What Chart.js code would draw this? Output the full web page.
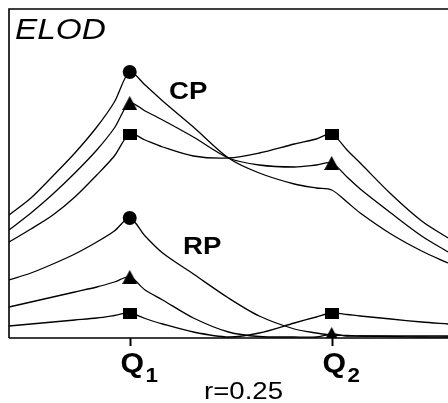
<!DOCTYPE html>
<html>
<head>
<meta charset="utf-8">
<script src="https://cdn.jsdelivr.net/npm/chart.js@4/dist/chart.umd.min.js"></script>
<style>
    html, body { margin: 0; padding: 0; background: #fff; }
    #chart { display: block; }
</style>
</head>
<body>
<canvas id="chart" width="448" height="403"></canvas>
<script>
// map position (cM), QTL positions at Q1 and Q2
const positions = [0, 5, 10, 15, 20, 24, 27.5, 31, 35, 42, 50, 57, 65, 70, 73.5, 77, 80, 87, 94, 100];
const qtlPositions = [27.5, 73.5];
const qtlLabels = ['1', '2'];

// ELOD profiles
const cpCircle   = [1.23, 1.40, 1.62, 1.85, 2.11, 2.36, 2.66, 2.53, 2.37, 2.11, 1.80, 1.65, 1.54, 1.50, 1.48, 1.36, 1.25, 1.04, 0.87, 0.75];
const cpTriangle = [1.08, 1.25, 1.44, 1.65, 1.88, 2.10, 2.35, 2.27, 2.18, 2.01, 1.80, 1.73, 1.71, 1.73, 1.75, 1.61, 1.49, 1.25, 1.02, 0.86];
const cpSquare   = [0.96, 1.09, 1.23, 1.41, 1.63, 1.82, 2.04, 1.98, 1.91, 1.82, 1.80, 1.85, 1.94, 1.99, 2.04, 1.88, 1.75, 1.44, 1.17, 1.00];
const rpCircle   = [0.58, 0.65, 0.74, 0.84, 0.96, 1.07, 1.20, 1.02, 0.85, 0.64, 0.40, 0.22, 0.09, 0.05, 0.03, 0.025, 0.02, 0.015, 0.01, 0.01];
const rpTriangle = [0.31, 0.36, 0.41, 0.46, 0.51, 0.56, 0.61, 0.48, 0.38, 0.20, 0.06, 0.015, 0.01, 0.01, 0.04, 0.02, 0.02, 0.02, 0.02, 0.02];
const rpSquare   = [0.12, 0.14, 0.16, 0.18, 0.20, 0.225, 0.25, 0.195, 0.14, 0.06, 0.01, 0.05, 0.15, 0.21, 0.25, 0.235, 0.22, 0.19, 0.16, 0.14];

const FONT = '"Liberation Sans", Arial, sans-serif';

function makeMarker(w, h, shape) {
    const c = document.createElement('canvas');
    c.width = w;
    c.height = h;
    const g = c.getContext('2d');
    g.fillStyle = '#000';
    if (shape === 'triangle') {
        g.beginPath();
        g.moveTo(w / 2, 0);
        g.lineTo(w, h);
        g.lineTo(0, h);
        g.closePath();
        g.fill();
    } else {
        g.fillRect(0, 0, w, h);
    }
    return c;
}

const squareMark = makeMarker(14, 11, 'square');
const triangleMark = makeMarker(15, 14, 'triangle');

// which QTL positions carry a marker
function series(values, style, markAt) {
    return {
        data: positions.map((x, i) => ({ x, y: values[i] })),
        borderColor: '#000',
        borderWidth: 1.3,
        backgroundColor: '#000',
        tension: 0.3,
        pointStyle: style,
        pointBorderWidth: 0,
        pointRadius: (ctx) => markAt.includes(positions[ctx.dataIndex]) ? 7 : 0,
        pointHoverRadius: 0
    };
}

function drawText(ctx, str, x, y, font, sx) {
    ctx.save();
    ctx.translate(x, y);
    ctx.scale(sx, 1);
    ctx.font = font;
    ctx.fillStyle = '#000';
    ctx.textBaseline = 'alphabetic';
    ctx.fillText(str, 0, 0);
    ctx.restore();
}

const framePlugin = {
    id: 'frame',
    afterDatasetsDraw(chart) {
        const { ctx, chartArea } = chart;
        const xScale = chart.scales.x;
        ctx.save();
        ctx.strokeStyle = '#000';
        ctx.lineWidth = 1.6;
        ctx.beginPath();
        ctx.moveTo(chartArea.left, chartArea.bottom);
        ctx.lineTo(chartArea.left, chartArea.top);
        ctx.lineTo(chartArea.right, chartArea.top);
        ctx.moveTo(chartArea.left, chartArea.bottom);
        ctx.lineTo(chartArea.right, chartArea.bottom);
        ctx.stroke();

        qtlPositions.forEach((q, i) => {
            const px = Math.round(xScale.getPixelForValue(q)) + 0.5;
            ctx.beginPath();
            ctx.lineWidth = 2;
            ctx.moveTo(px, chartArea.bottom);
            ctx.lineTo(px, chartArea.bottom + 8);
            ctx.stroke();
            drawText(ctx, 'Q', px - 10, 372, 'bold 27px ' + FONT, 1.12);
            drawText(ctx, qtlLabels[i], px + 15, 382, 'bold 20px ' + FONT, 1.12);
        });
        ctx.restore();

        drawText(ctx, 'ELOD', 15, 39, 'italic 29px ' + FONT, 1.15);
        drawText(ctx, 'CP', 169, 99, 'bold 24px ' + FONT, 1.15);
        drawText(ctx, 'RP', 183, 254, 'bold 24px ' + FONT, 1.15);
        drawText(ctx, 'r=0.25', 204, 399, '24px ' + FONT, 1.15);
    }
};

new Chart(document.getElementById('chart'), {
    type: 'line',
    data: {
        datasets: [
            series(cpCircle, 'circle', [qtlPositions[0]]),
            series(cpTriangle, triangleMark, qtlPositions),
            series(cpSquare, squareMark, qtlPositions),
            series(rpCircle, 'circle', [qtlPositions[0]]),
            series(rpTriangle, triangleMark, qtlPositions),
            series(rpSquare, squareMark, qtlPositions)
        ]
    },
    options: {
        responsive: false,
        devicePixelRatio: 1,
        animation: false,
        layout: { padding: { left: 9, top: 9, right: 0, bottom: 65 } },
        plugins: {
            legend: { display: false },
            tooltip: { enabled: false }
        },
        scales: {
            x: { type: 'linear', min: 0, max: 100, display: false },
            y: { type: 'linear', min: 0, max: 3.29, display: false }
        }
    },
    plugins: [framePlugin]
});
</script>
</body>
</html>
